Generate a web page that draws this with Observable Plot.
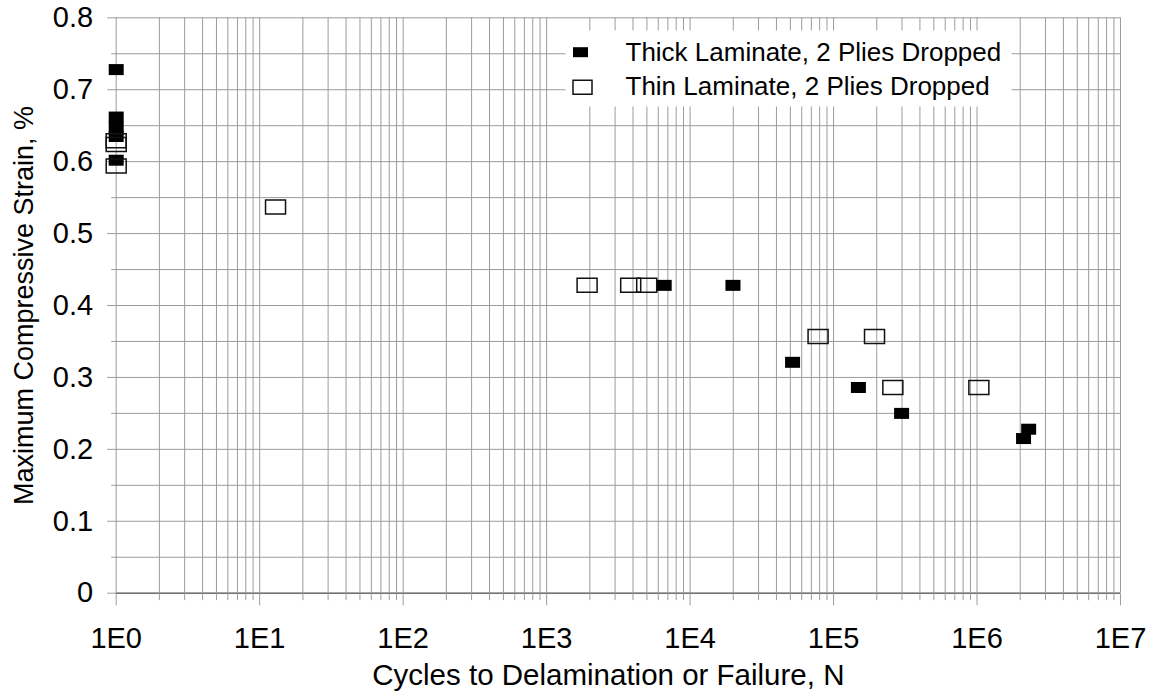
<!DOCTYPE html>
<html>
<head>
<meta charset="utf-8">
<script src="https://cdn.jsdelivr.net/npm/d3@7"></script>
<script src="https://cdn.jsdelivr.net/npm/@observablehq/plot@0.6"></script>
<style>
  html, body { margin: 0; padding: 0; background: #fff; overflow: hidden; }
</style>
</head>
<body>
<div id="chart"></div>
<script>
// ---- data ----
const thickN = [1, 1, 1, 1, 1, 6600, 19900, 51800, 149000, 298000, 2110000, 2290000];
const thickStrain = [0.728, 0.662, 0.648, 0.635, 0.602, 0.428, 0.428, 0.321, 0.286, 0.250, 0.215, 0.228];
const thinN = [1, 1, 1, 12.9, 1915, 3855, 4985, 78000, 193000, 259000, 1030000];
const thinStrain = [0.629, 0.624, 0.594, 0.537, 0.428, 0.428, 0.428, 0.357, 0.357, 0.286, 0.286];

const seriesNames = ["Thick Laminate, 2 Plies Dropped", "Thin Laminate, 2 Plies Dropped"];
const xTicks = [1, 10, 100, 1000, 10000, 100000, 1000000, 10000000];
const xTickLabels = ["1E0", "1E1", "1E2", "1E3", "1E4", "1E5", "1E6", "1E7"];
const yTicks = [0, 0.1, 0.2, 0.3, 0.4, 0.5, 0.6, 0.7, 0.8];
const yTickLabels = ["0", "0.1", "0.2", "0.3", "0.4", "0.5", "0.6", "0.7", "0.8"];
const xTitle = "Cycles to Delamination or Failure, N";
const yTitle = "Maximum Compressive Strain, %";

// ---- derived tables ----
const thick = thickN.map((n, i) => ({n, s: thickStrain[i]}));
const thin = thinN.map((n, i) => ({n, s: thinStrain[i]}));
const xTickTable = xTicks.map((v, i) => ({v, label: xTickLabels[i]}));
const yTickTable = yTicks.map((v, i) => ({v, label: yTickLabels[i]}));

// grid/minor tick positions (log minors within each decade, 0.05 steps on y)
const gridX = [];
for (let k = 0; k < 7; k++) for (let m = 1; m <= 9; m++) gridX.push(m * Math.pow(10, k));
gridX.push(1e7);
const minorX = gridX.filter(v => !xTicks.includes(v));
const gridY = d3.range(0, 17).map(i => +(i * 0.05).toFixed(2));
const minorY = gridY.filter(v => !yTicks.some(t => Math.abs(t - v) < 1e-9));

// custom symbols
const rectSym = (w, h) => ({draw(ctx) { ctx.moveTo(-w/2, -h/2); ctx.lineTo(w/2, -h/2); ctx.lineTo(w/2, h/2); ctx.lineTo(-w/2, h/2); ctx.closePath(); }});
const lineSym = (dx, dy) => ({draw(ctx) { ctx.moveTo(0, 0); ctx.lineTo(dx, dy); }});

const FONT = "'Liberation Sans', Arial, Helvetica, sans-serif";
const FS_TICK = 29;
const FS_XTITLE = 29.5;
const FS_YTITLE = 27;
const FS_LEG = 26;
const gridColor = "#9c9c9c";

const chart = Plot.plot({
  width: 1153,
  height: 698,
  marginLeft: 115.7,
  marginRight: 33,
  marginTop: 17.3,
  marginBottom: 105.3,
  style: {background: "#fff", fontFamily: FONT, overflow: "visible"},
  x: {type: "log", domain: [1, 1e7], axis: null},
  y: {domain: [0, 0.8], axis: null},
  marks: [
    // gridlines
    Plot.ruleX(gridX, {stroke: gridColor, strokeWidth: 1}),
    Plot.ruleY(gridY, {stroke: gridColor, strokeWidth: 1}),
    // legend background
    Plot.dot([0], {frameAnchor: "top-left", dx: 672.3, dy: 50.7, symbol: rectSym(446, 76), fill: "#fff", stroke: "none"}),
    // bottom axis line
    Plot.ruleY([0], {stroke: "#707070", strokeWidth: 1.5}),
    // x ticks
    Plot.dot(xTicks, {x: d => d, y: () => 0, symbol: lineSym(0, 12), fill: "none", stroke: gridColor, strokeWidth: 1}),
    Plot.dot(minorX, {x: d => d, y: () => 0, symbol: lineSym(0, 7), fill: "none", stroke: gridColor, strokeWidth: 1}),
    // y ticks
    Plot.dot(yTicks, {x: () => 1, y: d => d, symbol: lineSym(-9, 0), fill: "none", stroke: gridColor, strokeWidth: 1}),
    Plot.dot(minorY, {x: () => 1, y: d => d, symbol: lineSym(-5, 0), fill: "none", stroke: gridColor, strokeWidth: 1}),
    // data
    Plot.dot(thick, {x: "n", y: "s", symbol: rectSym(15, 11), fill: "#000", stroke: "none"}),
    Plot.dot(thin, {x: "n", y: "s", symbol: rectSym(20, 14), fill: "none", stroke: "#111", strokeWidth: 1.5}),
    // tick labels
    Plot.text(yTickTable, {x: () => 1, y: "v", text: "label", textAnchor: "end", lineAnchor: "middle", dx: -23, fontSize: FS_TICK, fill: "#000"}),
    Plot.text(xTickTable, {x: "v", y: () => 0, text: "label", textAnchor: "middle", lineAnchor: "middle", dy: 46, fontSize: FS_TICK, fill: "#000"}),
    // axis titles
    Plot.text([xTitle], {frameAnchor: "bottom", textAnchor: "middle", lineAnchor: "middle", dy: 82, dx: -10, fontSize: FS_XTITLE, fill: "#000"}),
    Plot.text([yTitle], {frameAnchor: "left", textAnchor: "middle", lineAnchor: "middle", rotate: -90, dx: -92, fontSize: FS_YTITLE, fill: "#000"}),
    // legend
    Plot.dot([0], {frameAnchor: "top-left", dx: 464.3, dy: 34.4, symbol: rectSym(15, 10), fill: "#000", stroke: "none"}),
    Plot.dot([0], {frameAnchor: "top-left", dx: 466.3, dy: 69.4, symbol: rectSym(19, 14), fill: "none", stroke: "#111", strokeWidth: 1.5}),
    Plot.text([seriesNames[0]], {frameAnchor: "top-left", dx: 509.3, dy: 34.4, textAnchor: "start", lineAnchor: "middle", fontSize: FS_LEG, fill: "#000"}),
    Plot.text([seriesNames[1]], {frameAnchor: "top-left", dx: 509.3, dy: 68.4, textAnchor: "start", lineAnchor: "middle", fontSize: FS_LEG, fill: "#000"})
  ]
});
document.getElementById("chart").appendChild(chart);
</script>
</body>
</html>
